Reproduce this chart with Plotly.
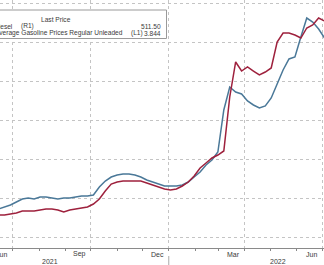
import plotly.graph_objects as go
import pandas as pd

# ---- data (weekly) ----
week_dates = list(pd.date_range("2021-06-14", periods=56, freq="7D").strftime("%Y-%m-%d"))

gasoline_l1 = [3.087, 3.108, 3.128, 3.159, 3.190, 3.200, 3.190, 3.210, 3.210, 3.200,
               3.190, 3.200, 3.200, 3.210, 3.221, 3.221, 3.231, 3.313, 3.374, 3.415,
               3.436, 3.446, 3.446, 3.436, 3.415, 3.385, 3.364, 3.344, 3.323, 3.323,
               3.323, 3.333, 3.364, 3.415, 3.467, 3.538, 3.590, 3.672, 4.103, 4.338,
               4.287, 4.267, 4.195, 4.154, 4.123, 4.144, 4.226, 4.369, 4.513, 4.626,
               4.646, 4.851, 5.046, 5.005, 4.933, 4.841]

diesel_r1 = [328.2, 328.2, 329.5, 330.8, 333.3, 333.3, 333.3, 334.6, 335.9, 335.9,
             334.6, 332.1, 334.6, 335.9, 337.2, 338.5, 342.3, 348.7, 359.0, 367.9,
             370.5, 371.8, 371.8, 371.8, 371.8, 369.2, 366.7, 364.1, 361.5, 360.3,
             361.5, 365.4, 370.5, 378.2, 388.5, 394.9, 401.3, 405.1, 410.3, 479.5,
             524.4, 512.8, 518.0, 512.8, 507.7, 511.5, 516.7, 550.0, 561.5, 561.5,
             559.0, 555.1, 568.0, 571.8, 580.8, 576.9]

tick_dates = ["2021-07-01", "2021-10-01", "2022-01-01", "2022-04-01", "2022-07-01"]
tick_labels = ["Jun", "Sep", "Dec", "Mar", "Jun"]
minor_dates = list(pd.date_range("2021-07-01", "2022-07-01", freq="MS").strftime("%Y-%m-%d"))
year_labels = ["2021", "2022"]

legend_header = "Last Price"
series_names = ["Diesel", "Average Gasoline Prices Regular Unleaded"]
series_axes = ["(R1)", "(L1)"]
last_prices = ["511.50", "3.844"]

gas_grid = [2.8, 3.2, 3.6, 4.0, 4.4, 4.8, 5.2]

RED = "#9e213d"
BLUE = "#4a7898"
W, H = 324, 265
PH = 248  # plot height in px
FONT = "Liberation Sans, Arial, sans-serif"
TXT = "#3a3a3a"

fig = go.Figure()
fig.add_trace(go.Scatter(x=week_dates, y=gasoline_l1, mode="lines",
                         line=dict(color=BLUE, width=1.5), yaxis="y", name=series_names[1]))
fig.add_trace(go.Scatter(x=week_dates, y=diesel_r1, mode="lines",
                         line=dict(color=RED, width=1.5), yaxis="y2", name=series_names[0]))

def py(pix):  # pixel-from-top -> paper y
    return 1 - pix / PH

def px(pix):
    return pix / W

shapes = [
    dict(type="rect", xref="paper", yref="paper", x0=-0.05, x1=px(166.5), y0=py(38.5), y1=py(10),
         line=dict(color="#9a9a9a", width=1), fillcolor="white", layer="above"),
    dict(type="line", xref="x", yref="paper", x0="2022-01-01", x1="2022-01-01",
         y0=py(256), y1=py(266), line=dict(color="#aaaaaa", width=1)),
]

ann = []
def t(text, x, y, anchor, size=6.6, color=TXT):
    ann.append(dict(text=text, xref="paper", yref="paper", x=px(x), y=py(y), xanchor=anchor,
                    yanchor="middle", showarrow=False, font=dict(family=FONT, size=size, color=color)))

t(legend_header, 55.5, 19.3, "center")
t(series_names[0], 15, 26, "right")
t(series_axes[0], 18.5, 26, "left")
t(last_prices[0], 162.5, 26, "right")
t(series_names[1], 124.5, 33, "right")
t(series_axes[1], 129, 33, "left")
t(last_prices[1], 162.5, 33, "right")
t(year_labels[0], 50, 261.5, "center", size=7)
t(year_labels[1], 278, 261.5, "center", size=7)

# month labels, centred inside the labelled month (left of each gridline)
for d, lab in zip(tick_dates, tick_labels):
    ann.append(dict(text=lab, xref="x", yref="paper", x=d, y=py(254), xanchor="center",
                    yanchor="middle", xshift=-11, showarrow=False,
                    font=dict(family=FONT, size=7, color=TXT)))

fig.update_layout(
    width=W, height=H,
    margin=dict(l=0, r=0, t=0, b=H - PH),
    paper_bgcolor="white", plot_bgcolor="white",
    showlegend=False,
    shapes=shapes, annotations=ann,
    xaxis=dict(type="date", range=["2021-06-15 16:00", "2022-07-03 08:00"],
               tickmode="array", tickvals=tick_dates, showticklabels=False,
               ticks="outside", ticklen=2, tickcolor="#888888",
               showline=True, linecolor="#8a8a8a", linewidth=1,
               showgrid=True, gridcolor="#c4c4c4", griddash="dot", gridwidth=1,
               zeroline=False,
               minor=dict(tickmode="array", tickvals=minor_dates, ticks="outside", ticklen=2,
                          tickcolor="#888888", showgrid=False)),
    yaxis=dict(range=[2.8 - 11 / 97.5, 2.8 + 237 / 97.5], tickmode="array", tickvals=gas_grid,
               showticklabels=False, showgrid=True, gridcolor="#c4c4c4", griddash="dot",
               gridwidth=1, zeroline=False, showline=False, ticks=""),
    yaxis2=dict(range=[300 - 11 / 0.78, 300 + 248 / 0.78 - 11 / 0.78], overlaying="y", side="right",
                showticklabels=False, showgrid=False, zeroline=False, showline=False, ticks=""),
)

fig.write_html("out.html")
